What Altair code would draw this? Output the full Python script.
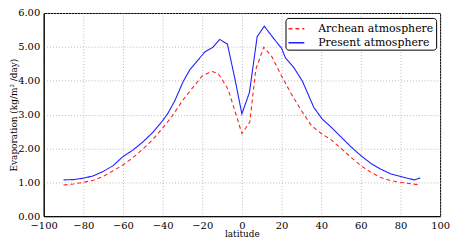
import altair as alt
import pandas as pd

present_lat = [-90, -85, -80, -75, -70, -65, -60, -55, -50, -45, -40, -37.5, -34, -29.5, -26.2,
               -22, -18.7, -14.8, -11.2, -7.3, -3.5, 0, 3.8, 7.7, 11.3, 16, 20, 22, 26.3, 30.5,
               36.3, 40.5, 45, 50, 55, 60, 65, 70, 75, 80, 85, 87, 90]
present_val = [1.07, 1.08, 1.12, 1.19, 1.32, 1.49, 1.76, 1.95, 2.19, 2.47, 2.82, 3.02, 3.39, 3.99, 4.33,
               4.62, 4.85, 4.98, 5.22, 5.08, 4.05, 3.02, 3.65, 5.30, 5.61, 5.25, 4.96, 4.67, 4.38, 3.99,
               3.21, 2.87, 2.63, 2.34, 2.05, 1.79, 1.56, 1.39, 1.25, 1.17, 1.10, 1.07, 1.13]

archean_lat = [-90, -85, -80, -75, -70, -65, -60, -55, -50, -45, -40, -35, -30, -25, -20, -17,
               -15, -12, -10, -7, -4, 0, 4, 7, 11, 15, 20, 25, 30, 35, 40, 45, 50, 55, 60, 65,
               70, 75, 80, 85, 90]
archean_val = [0.92, 0.95, 1.00, 1.06, 1.17, 1.34, 1.51, 1.73, 1.98, 2.26, 2.60, 2.97, 3.41, 3.78, 4.14, 4.23,
               4.27, 4.21, 4.04, 3.75, 3.20, 2.44, 2.78, 4.33, 4.99, 4.72, 4.14, 3.60, 3.12, 2.68, 2.44, 2.26,
               2.00, 1.74, 1.49, 1.30, 1.14, 1.05, 1.00, 0.96, 0.92]

series_names = ["Archean atmosphere", "Present atmosphere"]

df = pd.concat([
    pd.DataFrame({"lat": archean_lat, "evap": archean_val, "series": series_names[0], "order": range(len(archean_lat))}),
    pd.DataFrame({"lat": present_lat, "evap": present_val, "series": series_names[1], "order": range(len(present_lat))}),
])

FONT = "DejaVu Serif"

chart = alt.Chart(df).mark_line(strokeWidth=1.1).encode(
    x=alt.X("lat:Q", scale=alt.Scale(domain=[-100, 100], nice=False),
            axis=alt.Axis(title="latitude", values=list(range(-100, 101, 20)), format="d")),
    y=alt.Y("evap:Q", scale=alt.Scale(domain=[0, 6], nice=False),
            axis=alt.Axis(title="Evaporation (kg/m² /day)", values=[0, 1, 2, 3, 4, 5, 6], format=".2f")),
    color=alt.Color("series:N", scale=alt.Scale(domain=series_names, range=["#ff2020", "#2020ff"]),
                    legend=alt.Legend(title=None, orient="none", legendX=244, legendY=5,
                                      symbolType="stroke", symbolSize=256, symbolStrokeWidth=1.5,
                                      labelFont=FONT, labelFontSize=11, labelColor="#000",
                                      labelOffset=13, padding=2, rowPadding=0,
                                      strokeColor="#000", fillColor="#fff", cornerRadius=3)),
    strokeDash=alt.StrokeDash("series:N", scale=alt.Scale(domain=series_names, range=[[4, 3], [1, 0]]),
                              legend=None),
    order="order:Q",
).properties(
    width=400, height=205,
    autosize=alt.AutoSizeParams(type="none"),
    padding={"left": 36, "top": 4, "right": 12, "bottom": 21},
).configure_view(
    stroke="#000", strokeWidth=1
).configure_axis(
    labelFont=FONT, labelFontSize=10, labelColor="#000",
    titleFont=FONT, titleFontSize=9, titleColor="#000", titleFontWeight="normal",
    grid=True, gridColor="#aaaaaa", gridDash=[1, 2], gridWidth=0.8,
    ticks=False, domainColor="#000", labelPadding=4,
).configure_axisX(
    titlePadding=0, labelFlush=False
).configure_axisY(
    titlePadding=-1
)

chart.save("out.html", embed_options={"renderer": "svg", "actions": False})
